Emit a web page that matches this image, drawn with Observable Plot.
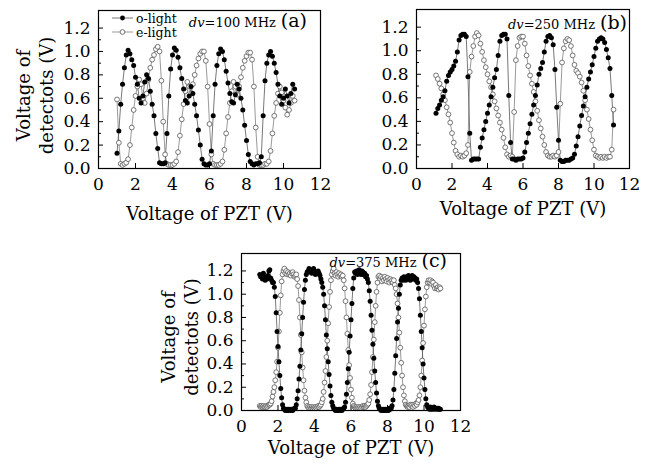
<!DOCTYPE html>
<html>
<head>
<meta charset="utf-8">
<script src="https://cdn.jsdelivr.net/npm/d3@7"></script>
<script src="https://cdn.jsdelivr.net/npm/@observablehq/plot@0.6"></script>
<style>
html, body { margin: 0; padding: 0; background: #fff; }
#chart { position: relative; width: 648px; height: 468px; overflow: hidden; background: #fff; }
#chart svg { position: absolute; left: 0; top: 0; overflow: visible; }
</style>
</head>
<body>
<div id="chart"></div>
<script>
// ---------- data ----------
const xTicks = [0, 2, 4, 6, 8, 10, 12];
const xInnerTicks = [2, 4, 6, 8, 10];
const yTicks = [0.0, 0.2, 0.4, 0.6, 0.8, 1.0, 1.2];
const yInnerMajor = [0.2, 0.4, 0.6, 0.8, 1.0, 1.2];
const yInnerMinor = [0.1, 0.3, 0.5, 0.7, 0.9, 1.1];
const seriesNames = ["o-light", "e-light"];
const dvValues = ["100", "250", "375"];
const panelTags = ["(a)", "(b)", "(c)"];
const xTitle = "Voltage of PZT (V)";
const yTitle = "Voltage of\ndetectots (V)";

// panel (a) dv = 100 MHz
const pztA = [1.0,1.1,1.2,1.3,1.4,1.5,1.6,1.7,1.8,1.9,
  2.0,2.1,2.2,2.3,2.4,2.5,2.6,2.7,2.8,2.9,
  3.0,3.1,3.2,3.3,3.4,3.5,3.6,3.7,3.8,3.9,
  4.0,4.1,4.2,4.3,4.4,4.5,4.6,4.7,4.8,4.9,
  5.0,5.1,5.2,5.3,5.4,5.5,5.6,5.7,5.8,5.9,
  6.0,6.1,6.2,6.3,6.4,6.5,6.6,6.7,6.8,6.9,
  7.0,7.1,7.2,7.3,7.4,7.5,7.6,7.7,7.8,7.9,
  8.0,8.1,8.2,8.3,8.4,8.5,8.6,8.7,8.8,8.9,
  9.0,9.1,9.2,9.3,9.4,9.5,9.6,9.7,9.8,9.9,
  10.0,10.1,10.2,10.3,10.4,10.5,10.6];
const oLightA = [0.13,0.32,0.55,0.72,0.86,0.97,1.01,0.98,0.93,0.88,
  0.78,0.72,0.60,0.56,0.62,0.74,0.80,0.77,0.66,0.55,
  0.45,0.30,0.17,0.05,0.04,0.04,0.05,0.30,0.62,0.85,
  0.97,1.03,1.01,0.95,0.86,0.77,0.68,0.58,0.56,0.62,
  0.70,0.64,0.55,0.45,0.33,0.20,0.08,0.04,0.03,0.03,
  0.04,0.15,0.45,0.72,0.88,0.98,1.02,1.00,0.93,0.83,
  0.73,0.64,0.57,0.56,0.63,0.72,0.68,0.60,0.50,0.37,
  0.24,0.12,0.06,0.04,0.03,0.04,0.04,0.05,0.10,0.45,
  0.75,0.90,0.97,1.00,0.96,0.90,0.82,0.72,0.62,0.55,
  0.60,0.68,0.62,0.56,0.64,0.72,0.68];
const eLightA = [0.59,0.22,0.04,0.03,0.04,0.05,0.08,0.20,0.35,0.50,
  0.62,0.70,0.76,0.72,0.60,0.56,0.64,0.76,0.86,0.93,
  0.97,1.02,1.04,1.00,0.75,0.40,0.12,0.04,0.03,0.03,
  0.03,0.04,0.06,0.14,0.28,0.42,0.55,0.66,0.74,0.70,
  0.64,0.72,0.80,0.88,0.94,0.98,1.00,1.00,0.92,0.70,
  0.38,0.12,0.04,0.03,0.03,0.03,0.04,0.06,0.16,0.30,
  0.44,0.56,0.66,0.74,0.70,0.63,0.70,0.78,0.86,0.92,
  0.96,0.99,0.99,0.93,0.70,0.35,0.10,0.03,0.03,0.03,
  0.04,0.04,0.06,0.15,0.30,0.45,0.56,0.64,0.70,0.65,
  0.58,0.52,0.46,0.50,0.56,0.62,0.58];

// panel (b) dv = 250 MHz
const pztB = [1.1,1.2,1.3,1.4,1.5,1.6,1.7,1.8,1.9,2.0,
  2.1,2.2,2.3,2.4,2.5,2.6,2.7,2.8,2.9,3.0,
  3.1,3.2,3.3,3.4,3.5,3.6,3.7,3.8,3.9,4.0,
  4.1,4.2,4.3,4.4,4.5,4.6,4.7,4.8,4.9,5.0,
  5.1,5.2,5.3,5.4,5.5,5.6,5.7,5.8,5.9,6.0,
  6.1,6.2,6.3,6.4,6.5,6.6,6.7,6.8,6.9,7.0,
  7.1,7.2,7.3,7.4,7.5,7.6,7.7,7.8,7.9,8.0,
  8.1,8.2,8.3,8.4,8.5,8.6,8.7,8.8,8.9,9.0,
  9.1,9.2,9.3,9.4,9.5,9.6,9.7,9.8,9.9,10.0,
  10.1,10.2,10.3,10.4,10.5,10.6,10.7,10.8,10.9,11.0,
  11.1];
const oLightB = [0.47,0.51,0.54,0.58,0.61,0.66,0.74,0.79,0.82,0.84,
  0.87,0.91,0.99,1.09,1.13,1.14,1.14,1.12,0.78,0.30,
  0.07,0.08,0.08,0.08,0.08,0.18,0.26,0.33,0.40,0.47,
  0.54,0.61,0.69,0.77,0.84,0.96,1.08,1.13,1.14,1.14,
  1.10,0.62,0.22,0.08,0.08,0.07,0.08,0.08,0.08,0.09,
  0.14,0.22,0.30,0.38,0.46,0.54,0.62,0.71,0.80,0.85,
  0.90,0.99,1.08,1.12,1.13,1.11,1.05,0.84,0.52,0.24,
  0.07,0.06,0.06,0.07,0.07,0.07,0.08,0.09,0.12,0.19,
  0.27,0.36,0.45,0.53,0.61,0.69,0.76,0.82,0.88,0.95,
  1.02,1.08,1.10,1.11,1.10,1.07,1.01,0.94,0.85,0.62,
  0.37];
const eLightB = [0.79,0.76,0.72,0.68,0.63,0.58,0.52,0.46,0.39,0.30,
  0.22,0.15,0.12,0.10,0.11,0.10,0.11,0.13,0.20,0.82,
  0.95,1.04,1.12,1.15,1.13,1.06,0.99,0.92,0.86,0.80,
  0.74,0.69,0.63,0.57,0.51,0.45,0.39,0.33,0.26,0.18,
  0.12,0.10,0.11,0.10,0.48,0.92,1.04,1.11,1.12,1.12,
  1.06,0.96,0.87,0.79,0.72,0.65,0.57,0.49,0.41,0.34,
  0.27,0.20,0.14,0.11,0.10,0.10,0.11,0.10,0.11,0.14,
  0.55,0.90,1.02,1.08,1.10,1.09,1.04,0.96,0.88,0.83,
  0.81,0.78,0.73,0.66,0.58,0.50,0.42,0.33,0.24,0.16,
  0.11,0.10,0.09,0.10,0.09,0.10,0.09,0.10,0.10,0.16,
  0.50];

// panel (c) dv = 375 MHz
const pztC = [1.00,1.05,1.10,1.15,1.20,1.25,1.30,1.35,1.40,1.45,
  1.50,1.55,1.60,1.65,1.70,1.75,1.80,1.85,1.90,1.95,
  2.00,2.05,2.10,2.15,2.20,2.25,2.30,2.35,2.40,2.45,
  2.50,2.55,2.60,2.65,2.70,2.75,2.80,2.85,2.90,2.95,
  3.00,3.05,3.10,3.15,3.20,3.25,3.30,3.35,3.40,3.45,
  3.50,3.55,3.60,3.65,3.70,3.75,3.80,3.85,3.90,3.95,
  4.00,4.05,4.10,4.15,4.20,4.25,4.30,4.35,4.40,4.45,
  4.50,4.55,4.60,4.65,4.70,4.75,4.80,4.85,4.90,4.95,
  5.00,5.05,5.10,5.15,5.20,5.25,5.30,5.35,5.40,5.45,
  5.50,5.55,5.60,5.65,5.70,5.75,5.80,5.85,5.90,5.95,
  6.00,6.05,6.10,6.15,6.20,6.25,6.30,6.35,6.40,6.45,
  6.50,6.55,6.60,6.65,6.70,6.75,6.80,6.85,6.90,6.95,
  7.00,7.05,7.10,7.15,7.20,7.25,7.30,7.35,7.40,7.45,
  7.50,7.55,7.60,7.65,7.70,7.75,7.80,7.85,7.90,7.95,
  8.00,8.05,8.10,8.15,8.20,8.25,8.30,8.35,8.40,8.45,
  8.50,8.55,8.60,8.65,8.70,8.75,8.80,8.85,8.90,8.95,
  9.00,9.05,9.10,9.15,9.20,9.25,9.30,9.35,9.40,9.45,
  9.50,9.55,9.60,9.65,9.70,9.75,9.80,9.85,9.90,9.95,
  10.00,10.05,10.10,10.15,10.20,10.25,10.30,10.35,10.40,10.45,
  10.50,10.55,10.60,10.65,10.70,10.75,10.80,10.85,10.90];
const oLightC = [1.17,1.15,1.16,1.13,1.18,1.14,1.12,1.15,1.13,1.16,
  1.20,1.21,1.14,1.12,1.10,1.10,1.06,0.98,0.84,0.68,
  0.55,0.42,0.30,0.19,0.11,0.05,0.02,0.01,0.00,0.01,
  0.00,0.01,0.00,0.01,0.00,0.01,0.00,0.01,0.02,0.02,
  0.05,0.10,0.17,0.27,0.38,0.52,0.66,0.80,0.93,1.04,
  1.12,1.17,1.19,1.20,1.22,1.19,1.21,1.18,1.19,1.22,
  1.20,1.17,1.19,1.18,1.20,1.18,1.16,1.13,1.10,1.06,
  1.00,0.90,0.78,0.65,0.53,0.42,0.31,0.21,0.13,0.07,
  0.04,0.02,0.01,0.00,0.01,0.00,0.00,0.01,0.00,0.01,
  0.00,0.01,0.02,0.03,0.07,0.14,0.24,0.36,0.50,0.64,
  0.78,0.92,1.05,1.14,1.19,1.18,1.20,1.17,1.19,1.21,
  1.18,1.17,1.20,1.19,1.17,1.18,1.15,1.16,1.13,1.10,
  1.03,0.94,0.82,0.69,0.57,0.45,0.34,0.24,0.15,0.08,
  0.04,0.02,0.01,0.00,0.01,0.00,0.01,0.00,0.01,0.00,
  0.01,0.00,0.02,0.01,0.02,0.04,0.09,0.18,0.32,0.47,
  0.62,0.76,0.88,1.00,1.08,1.12,1.14,1.12,1.15,1.13,
  1.12,1.15,1.13,1.16,1.14,1.12,1.14,1.16,1.13,1.15,
  1.14,1.12,1.13,1.10,1.05,0.96,0.82,0.68,0.54,0.40,
  0.28,0.18,0.10,0.05,0.03,0.02,0.01,0.03,0.01,0.02,
  0.01,0.03,0.02,0.01,0.02,0.01,0.02,0.01,0.01];
const eLightC = [0.04,0.03,0.04,0.03,0.04,0.03,0.03,0.04,0.03,0.04,
  0.05,0.05,0.06,0.08,0.12,0.16,0.20,0.26,0.33,0.42,
  0.54,0.68,0.84,0.99,1.11,1.17,1.20,1.22,1.18,1.20,
  1.17,1.19,1.17,1.18,1.16,1.18,1.19,1.17,1.15,1.16,
  1.17,1.13,1.07,0.95,0.80,0.65,0.50,0.37,0.26,0.17,
  0.11,0.07,0.04,0.03,0.02,0.03,0.02,0.03,0.02,0.03,
  0.02,0.03,0.02,0.03,0.04,0.03,0.04,0.05,0.07,0.10,
  0.16,0.24,0.34,0.46,0.60,0.75,0.89,1.02,1.12,1.17,
  1.20,1.22,1.18,1.16,1.19,1.17,1.15,1.18,1.16,1.17,
  1.15,1.16,1.12,1.05,0.94,0.80,0.66,0.52,0.39,0.28,
  0.18,0.11,0.06,0.04,0.03,0.02,0.03,0.02,0.03,0.02,
  0.03,0.02,0.03,0.04,0.03,0.04,0.03,0.04,0.05,0.06,
  0.09,0.14,0.22,0.33,0.46,0.61,0.76,0.90,1.02,1.10,
  1.15,1.16,1.13,1.15,1.11,1.14,1.12,1.15,1.13,1.11,
  1.14,1.12,1.10,1.13,1.11,1.12,1.10,1.12,1.08,1.05,
  1.00,0.92,0.80,0.67,0.54,0.41,0.30,0.20,0.13,0.08,
  0.05,0.04,0.03,0.04,0.03,0.05,0.04,0.05,0.03,0.05,
  0.04,0.06,0.05,0.07,0.09,0.13,0.20,0.30,0.43,0.58,
  0.73,0.87,0.98,1.06,1.10,1.12,1.10,1.12,1.09,1.11,
  1.10,1.07,1.05,1.08,1.05,1.06,1.04,1.06,1.05];

// ---------- drawing ----------
const W = 648, H = 468;
const serif = "'DejaVu Serif', 'Liberation Serif', serif";
const chart = document.getElementById("chart");

function rows(pzt, ys) { return ys.map((y, i) => ({x: pzt[i], y})); }

function panel({frame, pzt, oY, eY, xTitleDy, yTitleDx, yTitleDy, showYTitle, dv, tag, tagX, tagY, legend}) {
  const [L, R, T, B] = frame;
  const fw = R - L, fh = B - T;
  const o = rows(pzt, oY), e = rows(pzt, eY);
  const marks = [
    Plot.ruleX(xInnerTicks, {x: d => d, insetTop: fh - 5, stroke: "#000", strokeWidth: 1}),
    Plot.ruleY(yInnerMajor, {y: d => d, insetRight: fw - 5, stroke: "#000", strokeWidth: 1}),
    Plot.ruleY(yInnerMinor, {y: d => d, insetRight: fw - 3, stroke: "#000", strokeWidth: 1}),
    Plot.line(e, {x: "x", y: "y", stroke: "#808080", strokeWidth: 0.8}),
    Plot.line(o, {x: "x", y: "y", stroke: "#555", strokeWidth: 0.8}),
    Plot.dot(e, {x: "x", y: "y", r: 2.4, fill: "#fff", stroke: "#555", strokeWidth: 0.8}),
    Plot.dot(o, {x: "x", y: "y", r: 2.5, fill: "#000", stroke: "none"}),
    Plot.frame({stroke: "#000", strokeWidth: 1.2}),
    Plot.text([xTitle], {text: d => d, frameAnchor: "bottom", textAnchor: "middle", lineAnchor: "middle", dy: xTitleDy, fontSize: 18, fill: "#000"})
  ];
  if (showYTitle) {
    marks.push(Plot.text([yTitle], {text: d => d, frameAnchor: "left", textAnchor: "middle", lineAnchor: "middle", rotate: -90, dx: yTitleDx, dy: yTitleDy, fontSize: 18, lineHeight: 1.28, fill: "#000"}));
  }
  const svg = Plot.plot({
    width: W, height: H,
    marginLeft: L, marginRight: W - R, marginTop: T, marginBottom: H - B,
    style: {fontFamily: serif, fontSize: "17px", background: "transparent", color: "#000", overflow: "visible"},
    x: {domain: [0, 12], ticks: xTicks, tickSize: 0, tickPadding: 9, label: null},
    y: {domain: [0, 1.35], ticks: yTicks, tickSize: 0, tickPadding: 8, tickFormat: d => d.toFixed(1), label: null},
    marks
  });
  const s = d3.select(svg);
  // annotation: dv=... MHz (x)
  const t = s.append("text").attr("x", tagX).attr("y", tagY).attr("text-anchor", "end")
    .attr("font-family", serif).attr("fill", "#000");
  t.append("tspan").attr("font-style", "italic").attr("font-size", 13).text("dv");
  t.append("tspan").attr("font-size", 13).text("=" + dv + " MHz");
  t.append("tspan").attr("font-size", 19).attr("dx", 5).text(tag);
  if (legend) {
    const g = s.append("g").attr("font-family", serif).attr("font-size", 12.5).attr("text-anchor", "start");
    seriesNames.forEach((name, i) => {
      const y = legend.y + i * legend.step;
      g.append("line").attr("x1", legend.x).attr("x2", legend.x + 21).attr("y1", y).attr("y2", y)
        .attr("stroke", i === 0 ? "#555" : "#808080").attr("stroke-width", 0.8);
      g.append("circle").attr("cx", legend.x + 10.5).attr("cy", y).attr("r", 2.4)
        .attr("fill", i === 0 ? "#000" : "#fff").attr("stroke", i === 0 ? "none" : "#555").attr("stroke-width", 0.8);
      g.append("text").attr("x", legend.x + 24).attr("y", y + 4.5).attr("text-anchor", "start").attr("fill", "#000").text(name);
    });
  }
  chart.appendChild(svg);
}

panel({frame: [98, 320, 10, 168], pzt: pztA, oY: oLightA, eY: eLightA,
  xTitleDy: 46, yTitleDx: -64, yTitleDy: 6, showYTitle: true,
  dv: dvValues[0], tag: panelTags[0], tagX: 307, tagY: 27,
  legend: {x: 112, y: 18, step: 14}});
panel({frame: [416, 629, 9, 168], pzt: pztB, oY: oLightB, eY: eLightB,
  xTitleDy: 41, showYTitle: false,
  dv: dvValues[1], tag: panelTags[1], tagX: 627, tagY: 29});
panel({frame: [241, 460, 253, 410], pzt: pztC, oY: oLightC, eY: eLightC,
  xTitleDy: 38, yTitleDx: -62, yTitleDy: 5, showYTitle: true,
  dv: dvValues[2], tag: panelTags[2], tagX: 447, tagY: 267});
</script>
</body>
</html>
